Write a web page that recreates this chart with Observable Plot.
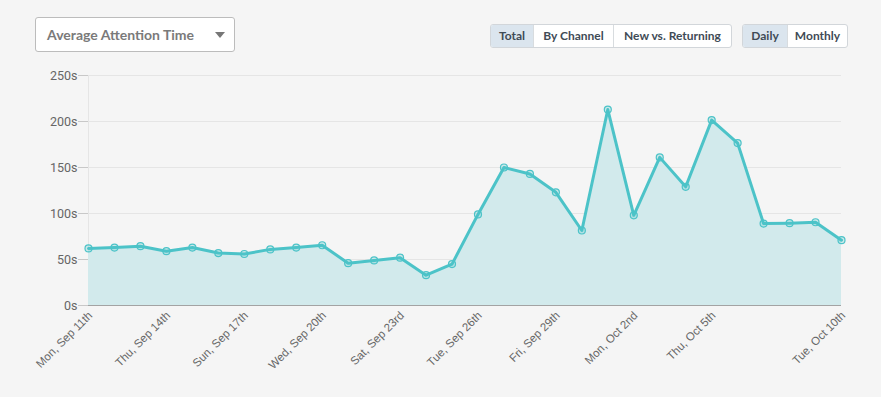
<!DOCTYPE html>
<html>
<head>
<meta charset="utf-8">
<script src="https://cdn.jsdelivr.net/npm/d3@7"></script>
<script src="https://cdn.jsdelivr.net/npm/@observablehq/plot@0.6"></script>
<style>
  html, body { margin: 0; padding: 0; background: #f5f5f5; width: 881px; height: 397px; overflow: hidden; }
  #wrap { position: relative; width: 881px; height: 397px; }
  .dropdown { position: absolute; left: 35px; top: 17px; width: 198px; height: 33px; background: #fff; border: 1px solid #bcbcbc; border-radius: 3px; box-sizing: content-box; font-family: Lato, "Open Sans", sans-serif; font-weight: 700; font-size: 14px; color: #7a7a7a; }
  .dropdown span { position: absolute; left: 11px; top: 8px; }
  .dropdown .caret { position: absolute; left: 179px; top: 14px; width: 0; height: 0; border-left: 5px solid transparent; border-right: 5px solid transparent; border-top: 6px solid #777; }
  .group { position: absolute; top: 24px; height: 22px; display: flex; border: 1px solid #d2d6da; border-radius: 3px; overflow: hidden; background: #fff; font-family: Lato, "Open Sans", sans-serif; font-weight: 700; font-size: 12px; color: #3f4b56; }
  .group div { height: 22px; line-height: 22px; text-align: center; border-left: 1px solid #d8dcdf; box-sizing: border-box; }
  .group div:first-child { border-left: none; }
  .group div.active { background: #dbe5ee; }
  #chart { position: absolute; left: 0; top: 60px; }
</style>
</head>
<body>
<div id="wrap">
  <div class="dropdown"><span>Average Attention Time</span><div class="caret"></div></div>
  <div class="group" style="left:490px; width:240px;">
    <div class="active" style="width:42px;">Total</div>
    <div style="width:80px;">By Channel</div>
    <div style="width:118px;">New vs. Returning</div>
  </div>
  <div class="group" style="left:742px; width:104px;">
    <div class="active" style="width:44px;">Daily</div>
    <div style="width:60px;">Monthly</div>
  </div>
  <div id="chart"></div>
</div>
<script>
const dates = [
  "2017-09-11","2017-09-12","2017-09-13","2017-09-14","2017-09-15","2017-09-16","2017-09-17",
  "2017-09-18","2017-09-19","2017-09-20","2017-09-21","2017-09-22","2017-09-23","2017-09-24",
  "2017-09-25","2017-09-26","2017-09-27","2017-09-28","2017-09-29","2017-09-30","2017-10-01",
  "2017-10-02","2017-10-03","2017-10-04","2017-10-05","2017-10-06","2017-10-07","2017-10-08",
  "2017-10-09","2017-10-10"
];
const seconds = [62, 63, 64.5, 59, 63, 57, 56, 61, 63, 65.5, 46, 49, 52, 33, 45, 99, 150, 143, 123, 81.5,
  213, 98, 161, 129, 201.5, 176.5, 89, 89.5, 90.5, 71];
const tickDates = ["2017-09-11","2017-09-14","2017-09-17","2017-09-20","2017-09-23","2017-09-26",
  "2017-09-29","2017-10-02","2017-10-05","2017-10-10"];
const tickLabels = ["Mon, Sep 11th","Thu, Sep 14th","Sun, Sep 17th","Wed, Sep 20th","Sat, Sep 23rd",
  "Tue, Sep 26th","Fri, Sep 29th","Mon, Oct 2nd","Thu, Oct 5th","Tue, Oct 10th"];
const yTicks = [0, 50, 100, 150, 200, 250];

const parse = d3.utcParse("%Y-%m-%d");
const data = dates.map((d, i) => ({date: parse(d), value: seconds[i]}));
const tickD = tickDates.map(parse);
const labelOf = new Map(tickD.map((d, i) => [+d, tickLabels[i]]));

const teal = "#4cc3c8";
const chart = Plot.plot({
  width: 881, height: 337,
  marginTop: 15, marginBottom: 92, marginLeft: 88, marginRight: 40,
  style: {background: "transparent", fontFamily: "Roboto, sans-serif", overflow: "visible"},
  x: {type: "utc", domain: [data[0].date, data[data.length - 1].date], label: null},
  y: {domain: [0, 250], label: null},
  marks: [
    Plot.gridY(yTicks, {stroke: "#e5e5e5", strokeOpacity: 1}),
    Plot.ruleX([data[0].date], {stroke: "#e5e5e5", strokeOpacity: 1}),
    Plot.areaY(data, {x: "date", y: "value", fill: "#d2eaec"}),
    Plot.ruleY([0], {stroke: "#a3a3a3"}),
    Plot.lineY(data, {x: "date", y: "value", stroke: teal, strokeWidth: 3}),
    Plot.dot(data, {x: "date", y: "value", r: 3.5, stroke: teal, strokeWidth: 1.2, fill: teal, fillOpacity: 0.25}),
    Plot.axisY({ticks: yTicks, tickFormat: d => d + "s", tickSize: 10, tickPadding: 1, label: null,
      stroke: "#c8c8c8", fill: "#666", fontSize: 12.5, fontFamily: "Roboto, sans-serif"}),
    Plot.axisX({ticks: tickD, tickFormat: d => labelOf.get(+d), tickRotate: -45, tickSize: 0, tickPadding: 6, label: null,
      dx: 2, dy: 2, fill: "#666", fontSize: 11.5, fontFamily: "Liberation Sans, Arial, sans-serif"})
  ]
});
document.getElementById("chart").appendChild(chart);
</script>
</body>
</html>
